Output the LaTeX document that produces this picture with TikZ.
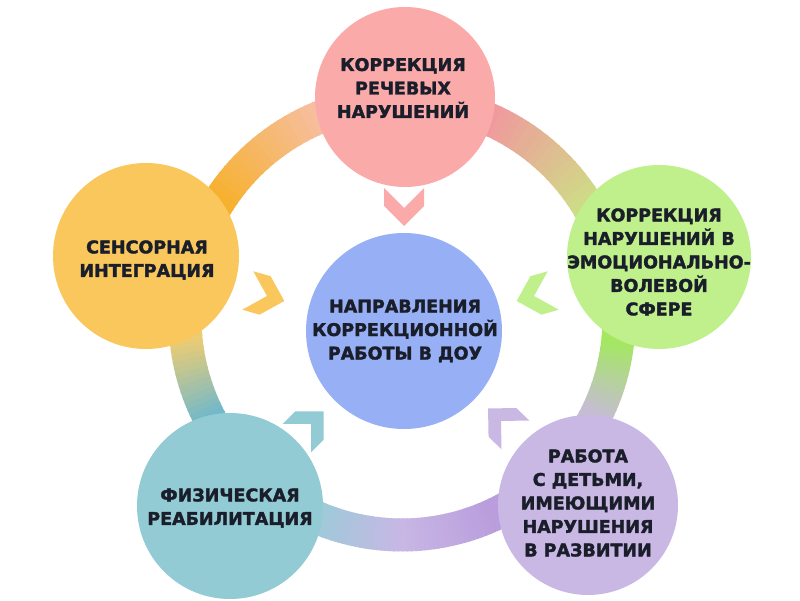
\documentclass[tikz,border=0pt]{standalone}
\usepackage{fontspec}
\setmainfont{DejaVu Sans}
\newfontfamily\lblfont{DejaVu Sans}[UprightFont=*-Bold, UprightFeatures={FakeBold=2}]
\definecolor{pinkC}{HTML}{FBAAAA}
\definecolor{blueC}{HTML}{97AFF5}
\definecolor{orangeC}{HTML}{FAC75D}
\definecolor{greenC}{HTML}{C0F08C}
\definecolor{purpleC}{HTML}{C9B7E4}
\definecolor{tealC}{HTML}{93CBD4}
\definecolor{txt}{HTML}{1A1E2A}
% ring gradient colours
\definecolor{rgA}{HTML}{CFDC86}
\definecolor{rgB}{HTML}{EF9B9D}
\definecolor{rpA}{HTML}{F6BE9E}
\definecolor{rpB}{HTML}{F6B12E}
\definecolor{roA}{HTML}{EBCC74}
\definecolor{roB}{HTML}{72B9CA}
\definecolor{rtA}{HTML}{9FCAD9}
\definecolor{rtB}{HTML}{C8B7E5}
\definecolor{rtC}{HTML}{B99DDC}
\definecolor{ruA}{HTML}{C5BDD2}
\definecolor{ruB}{HTML}{A4E860}
\tikzset{
  blob/.style={circle, inner sep=0pt, draw=none},
  lbl/.style={font=\lblfont\fontsize{17.5}{23.5}\selectfont, text=txt, align=center, inner sep=0pt},
  chev/.pic={\fill (18,0) -- (-2,20) -- (-20,20) -- (0,0) -- (-20,-20) -- (-2,-20) -- cycle;}
}
\begin{document}
\begin{tikzpicture}[x=1pt, y=1pt]
\fill[white] (0,0) rectangle (800,600);
\useasboundingbox (0,0) rectangle (800,600);
\coordinate (R) at (402,282);
% gradient ring
\foreach \A/\B/\vs/\ve/\ca/\cb in {13.4/89.2/32/65/rgA/rgB, 89.2/166.4/113/147/rpA/rpB, 166.4/227.5/186/207/roA/roB, 227.5/270/248/270/rtA/rtB, 270/314.4/270/295/rtB/rtC, 314.4/373.4/334/354/ruA/ruB}{
  \foreach \i in {0,...,39}{
    \pgfmathsetmacro\s{\A+(\B-\A)*\i/40}
    \pgfmathsetmacro\e{\A+(\B-\A)*(\i+1)/40+0.4}
    \pgfmathsetmacro\m{\A+(\B-\A)*(\i+0.5)/40}
    \pgfmathsetmacro\t{100*min(max((\m-\vs)/(\ve-\vs),0),1)}
    \draw[line width=33pt, color=\cb!\t!\ca] ([shift={(\s:217)}]R) arc[start angle=\s, end angle=\e, radius=217];
  }
}
% chevrons
\pic[color=pinkC, rotate=-90] at (404,392) {chev};
\pic[color=orangeC, rotate=-16] at (267,304) {chev};
\pic[color=greenC, rotate=196] at (534,304) {chev};
\pic[color=tealC, rotate=45] at (311,176) {chev};
\pic[color=purpleC, rotate=136] at (501,179) {chev};
% circles
\node[blob, fill=pinkC, minimum size=180pt] (pink) at (405,503) {};
\node[blob, fill=orangeC, minimum size=186pt] (orange) at (146,344) {};
\node[blob, fill=greenC, minimum size=184pt] (green) at (659,343) {};
\node[blob, fill=purpleC, minimum size=180pt] (purple) at (588,95) {};
\node[blob, fill=tealC, minimum size=186pt] (teal) at (230,94) {};
\node[blob, fill=blueC, minimum size=196pt] (center) at (404,269) {};
% labels
\node[lbl] (tpink) at (403,512) {КОРРЕКЦИЯ\\РЕЧЕВЫХ\\НАРУШЕНИЙ};
\node[lbl] (tcenter) at (405,269) {НАПРАВЛЕНИЯ\\КОРРЕКЦИОННОЙ\\РАБОТЫ В ДОУ};
\node[lbl] (torange) at (147,340) {СЕНСОРНАЯ\\ИНТЕГРАЦИЯ};
\node[lbl] (tgreen) at (659,338) {КОРРЕКЦИЯ\\НАРУШЕНИЙ В\\ЭМОЦИОНАЛЬНО-\\ВОЛЕВОЙ\\СФЕРЕ};
\node[lbl] (tpurple) at (588,97) {РАБОТА\\С ДЕТЬМИ,\\ИМЕЮЩИМИ\\НАРУШЕНИЯ\\В РАЗВИТИИ};
\node[lbl] (tteal) at (230,92) {ФИЗИЧЕСКАЯ\\РЕАБИЛИТАЦИЯ};
\end{tikzpicture}
\end{document}
